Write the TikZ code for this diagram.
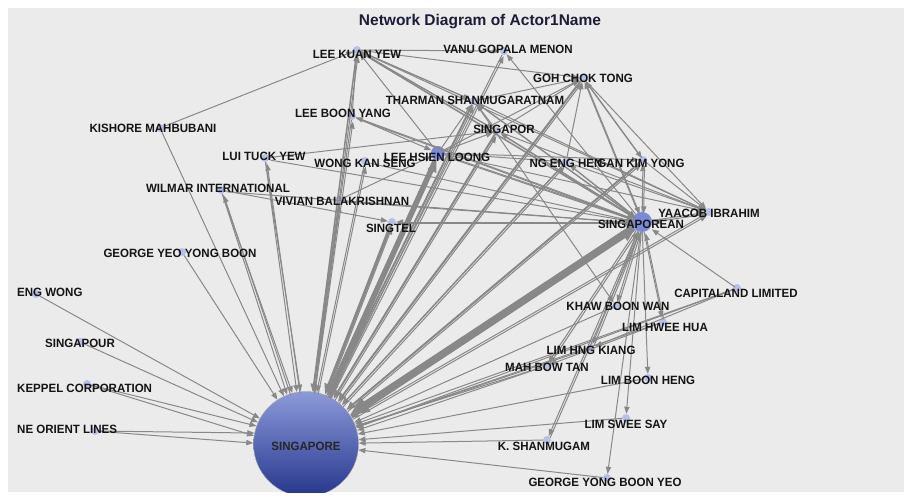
\documentclass[tikz,border=0pt]{standalone}
\usepackage{fontspec}
\setmainfont{Liberation Sans}
\newfontfamily\lblfont[FakeStretch=0.96]{Liberation Sans}
\usetikzlibrary{arrows.meta}
\definecolor{panel}{RGB}{235,235,235}
\definecolor{edgegray}{RGB}{136,136,136}
\definecolor{dotblue}{RGB}{184,192,232}
\definecolor{hubblue}{RGB}{122,138,214}
\definecolor{titleblue}{RGB}{28,28,56}
\tikzset{
  actor/.style={circle, fill=dotblue, inner sep=0pt, minimum size=8pt},
  hub/.style={actor, fill=hubblue, minimum size=#1},
  lbl/.style={font=\lblfont\bfseries\fontsize{12}{14}\selectfont, text=black!92, inner sep=0pt},
  edgeline/.style={draw=edgegray, line width=1pt, -{Triangle[length=5pt 2,width=3.5pt 1.8]}},
  backlink/.style={edgeline, transform canvas={shift={(1.5pt,-1.5pt)}}},
}
\begin{document}
\begin{tikzpicture}[x=1pt,y=-1pt]
\useasboundingbox (0,0) rectangle (904,498);
\fill[white] (0,0) rectangle (904,498);
\fill[panel] (8,8) rectangle (904,492);
\clip (8,8) rectangle (904,492);

\node[font=\bfseries\fontsize{15.5}{18}\selectfont, text=titleblue] (title) at (480,22) {Network Diagram of Actor1Name};

% actors
\node[circle, minimum size=105pt, inner sep=0pt, draw=gray!70,
  top color={rgb,255:red,140;green,154;blue,218}, bottom color={rgb,255:red,38;green,54;blue,140}] (sg) at (306,444) {};
\foreach \n/\x/\y in {lky/357/50, vgm/504/51, gct/583/78, tsh/474/101, lby/352/116,
  sgp/497/131, km/160/128, lty/265/158, wks/365/161, neh/566/162, gky/643/160,
  wil/221/190, vb/339/200, st/392/222, yi/709/212, gyyb/182/252, ew/36/294,
  spr/80/342, kep/87/384, nol/95/431, cap/737/288, kbw/616/306, lhh/663/322,
  lhk/591/348, mbt/546/366, lbh/648/378, lss/626/418, ksh/547/440, gyby/607/478}
  \node[actor] (\n) at (\x,\y) {};
\node[hub=14pt] (lhl) at (438,153) {};
\node[hub=20pt] (spn) at (642,222) {};

% into SINGAPORE
\foreach \a in {km,gyyb,ew,spr,vb,wks,lby,kbw,lhh,lhk,lbh,lss,ksh,gyby,yi,vgm}
  \draw[edgeline] (\a) -- (sg);
\foreach \a/\p/\q in {wil/105/111, lty/96/100, kep/160/171, nol/168/179, mbt/15/20, cap/18/22}
  {\draw[edgeline] (\a) -- (sg.\p); \draw[edgeline] (\a) -- (sg.\q);}
\foreach \a/\w in {lhl/4, st/3, tsh/2, gct/2, sgp/2, neh/1.5, gky/2, lky/1.5}
  \draw[edgeline, line width=\w pt] (\a) -- (sg);
\draw[edgeline, line width=7pt] (spn) -- (sg);

% out of SINGAPORE
\foreach \b in {lky,lby,wks,lty,wil,vb,st,tsh,gct,sgp,vgm,neh,gky,yi}
  \draw[backlink] (sg) -- (\b);
\draw[backlink, line width=3pt] (sg) -- (lhl);
\draw[backlink, line width=4pt] (sg) -- (spn);

% SINGAPOREAN hub
\foreach \b in {gky,neh,gct,sgp,tsh,lhl,lky,lby,yi,kbw,lhk,lbh,lss,ksh,gyby,mbt,lhh,vgm,st}
  \draw[edgeline] (spn) -- (\b);
\foreach \a in {lhl,lky,gct,tsh,sgp,vb,st,cap,lhh,kbw,mbt,lhk,ksh,gky,neh,yi,wil,lty,wks,lby}
  \draw[backlink] (\a) -- (spn);

% the rest
\foreach \a/\b in {km/lky, lby/lky, lhl/lky, tsh/lky, sgp/lky, lky/vgm, lky/gct, lky/tsh,
  lky/sgp, lky/yi, lby/lhl, lhl/gct, lhl/sgp, lhl/tsh, lhl/yi, lhl/gky, lhl/neh, tsh/gct,
  tsh/yi, tsh/kbw, sgp/gct, sgp/yi, sgp/tsh, neh/gct, neh/yi, gky/gct, gky/yi, gct/yi,
  vb/lhl, wil/st, lty/sgp, cap/lhk, lhh/mbt}
  \draw[edgeline] (\a) -- (\b);
\draw[backlink] (gct) -- (gky);

% labels
\foreach \n/\x/\y/\t in {lky/357/54/LEE KUAN YEW, vgm/508/49/VANU GOPALA MENON,
  gct/583/78/GOH CHOK TONG, tsh/475/100/THARMAN SHANMUGARATNAM, lby/343/113/LEE BOON YANG,
  sgp/504/129/SINGAPOR, km/153/128/KISHORE MAHBUBANI, lty/264/156/LUI TUCK YEW,
  wks/365/163/WONG KAN SENG, lhl/437/157/LEE HSIEN LOONG, neh/566/163/NG ENG HEN,
  gky/641/163/GAN KIM YONG, wil/218/188/WILMAR INTERNATIONAL, vb/342/201/VIVIAN BALAKRISHNAN,
  st/391/228/SINGTEL, spn/641/224/SINGAPOREAN, yi/709/213/YAACOB IBRAHIM,
  gyyb/180/253/GEORGE YEO YONG BOON, spr/80/343/SINGAPOUR, cap/736/293/CAPITALAND LIMITED,
  kbw/618/306/KHAW BOON WAN, lhh/665/327/LIM HWEE HUA, lhk/591/350/LIM HNG KIANG,
  mbt/547/367/MAH BOW TAN, lbh/648/380/LIM BOON HENG, lss/626/424/LIM SWEE SAY,
  ksh/544/446/K. SHANMUGAM, gyby/605/482/GEORGE YONG BOON YEO}
  \node[lbl] (\n-t) at (\x,\y) {\t};
\node[lbl, anchor=west] (ew-t) at (17,292) {ENG WONG};
\node[lbl, anchor=west] (kep-t) at (17,388) {KEPPEL CORPORATION};
\node[lbl, anchor=west] (nol-t) at (17,429) {NE ORIENT LINES};
\node[lbl, text=black!85] (sg-t) at (306,446) {SINGAPORE};
\end{tikzpicture}
\end{document}
